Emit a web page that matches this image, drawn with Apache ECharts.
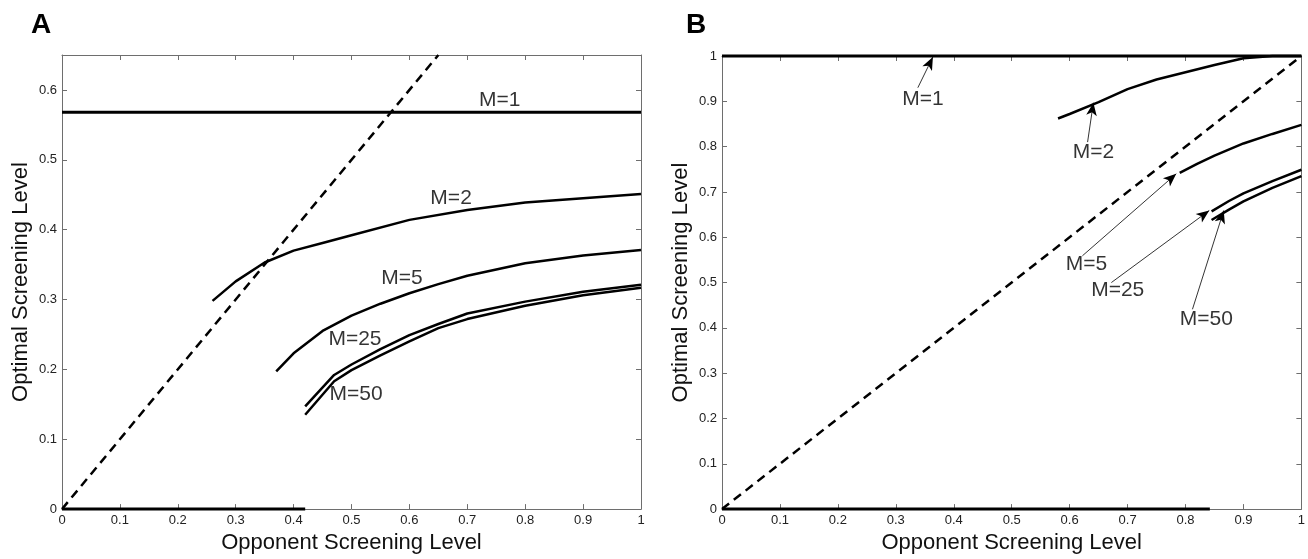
<!DOCTYPE html>
<html lang="en">
<head>
<meta charset="UTF-8">
<title>Optimal Screening Level</title>
<script src="https://cdn.jsdelivr.net/npm/echarts@6/dist/echarts.min.js"></script>
<style>
  html, body { margin: 0; padding: 0; background: #fff; }
  #main { width: 1308px; height: 559px; }
</style>
</head>
<body>
<div id="main"></div>
<script>
// ---- panel A ----
var xDiagA = [0, 0.65];
var yM1A = 0.568;
var zeroEndA = 0.42;
var xM2A = [0.26, 0.3, 0.35, 0.4, 0.45, 0.5, 0.6, 0.7, 0.8, 0.9, 1.0];
var yM2A = [0.298, 0.326, 0.353, 0.37, 0.381, 0.392, 0.414, 0.428, 0.439, 0.445, 0.451];
var xM5A = [0.37, 0.4, 0.45, 0.5, 0.55, 0.6, 0.65, 0.7, 0.8, 0.9, 1.0];
var yM5A = [0.197, 0.223, 0.255, 0.277, 0.294, 0.309, 0.322, 0.334, 0.352, 0.363, 0.371];
var xM25A = [0.42, 0.47, 0.5, 0.55, 0.6, 0.65, 0.7, 0.8, 0.9, 1.0];
var yM25A = [0.147, 0.192, 0.207, 0.229, 0.249, 0.265, 0.28, 0.297, 0.311, 0.321];
var xM50A = [0.42, 0.47, 0.5, 0.55, 0.6, 0.65, 0.7, 0.8, 0.9, 1.0];
var yM50A = [0.135, 0.183, 0.199, 0.22, 0.24, 0.259, 0.272, 0.291, 0.306, 0.317];
var labelsA = ['M=1', 'M=2', 'M=5', 'M=25', 'M=50'];
var labelPosA = [[0.756, 0.586], [0.672, 0.445], [0.587, 0.330], [0.506, 0.243], [0.508, 0.164]];

// ---- panel B ----
var xDiagB = [0, 1];
var yM1B = 1;
var zeroEndB = 0.842;
var xM2B = [0.58, 0.6, 0.65, 0.7, 0.75, 0.8, 0.85, 0.9, 0.95, 1.0];
var yM2B = [0.862, 0.872, 0.898, 0.927, 0.948, 0.964, 0.98, 0.995, 1.0, 1.0];
var xM5B = [0.79, 0.82, 0.85, 0.9, 0.95, 1.0];
var yM5B = [0.742, 0.762, 0.78, 0.807, 0.828, 0.848];
var xM25B = [0.845, 0.875, 0.9, 0.95, 1.0];
var yM25B = [0.657, 0.68, 0.697, 0.724, 0.749];
var xM50B = [0.845, 0.875, 0.9, 0.95, 1.0];
var yM50B = [0.638, 0.661, 0.679, 0.709, 0.735];
var labelsB = ['M=1', 'M=2', 'M=5', 'M=25', 'M=50'];
var labelPosB = [[0.347, 0.904], [0.641, 0.788], [0.629, 0.541], [0.683, 0.483], [0.836, 0.419]];
var arrowFromB = [[0.338, 0.930], [0.631, 0.810], [0.622, 0.559], [0.672, 0.500], [0.812, 0.441]];
var arrowToB = [[0.364, 0.998], [0.641, 0.897], [0.784, 0.740], [0.841, 0.659], [0.866, 0.659]];

var FONT = 'Liberation Sans, Arial, Helvetica, sans-serif';
var AXIS_COLOR = '#6e6e6e';

function zip(xs, ys) {
    return xs.map(function (x, i) { return [x, ys[i]]; });
}

function curve(data, xi, yi, extra) {
    var s = {
        type: 'line',
        xAxisIndex: xi,
        yAxisIndex: yi,
        data: data,
        showSymbol: false,
        symbol: 'none',
        clip: false,
        silent: true,
        lineStyle: { color: '#000', width: 2.5 },
        z: 3
    };
    if (extra) {
        for (var k in extra) s[k] = extra[k];
    }
    return s;
}

function bottomX(gi, name) {
    return {
        type: 'value', gridIndex: gi, min: 0, max: 1, interval: 0.1,
        name: name, nameLocation: 'middle', nameGap: 22,
        nameTextStyle: { fontFamily: FONT, fontSize: 22, color: '#111' },
        axisLine: { show: true, onZero: false, lineStyle: { color: AXIS_COLOR, width: 1 } },
        axisTick: { show: true, inside: true, length: 5, lineStyle: { color: AXIS_COLOR } },
        axisLabel: { fontFamily: FONT, fontSize: 13, color: '#222', margin: 5 },
        splitLine: { show: false }
    };
}

function topX(gi) {
    return {
        type: 'value', gridIndex: gi, position: 'top', min: 0, max: 1, interval: 0.1,
        axisLine: { show: true, onZero: false, lineStyle: { color: AXIS_COLOR, width: 1 } },
        axisTick: { show: true, inside: true, length: 5, lineStyle: { color: AXIS_COLOR } },
        axisLabel: { show: false },
        splitLine: { show: false }
    };
}

function leftY(gi, max, name, showMax) {
    return {
        type: 'value', gridIndex: gi, min: 0, max: max, interval: 0.1,
        name: name, nameLocation: 'middle', nameGap: 30,
        nameTextStyle: { fontFamily: FONT, fontSize: 22, color: '#111' },
        axisLine: { show: true, onZero: false, lineStyle: { color: AXIS_COLOR, width: 1 } },
        axisTick: { show: true, inside: true, length: 5, lineStyle: { color: AXIS_COLOR } },
        axisLabel: { fontFamily: FONT, fontSize: 13, color: '#222', margin: 5, showMaxLabel: showMax },
        splitLine: { show: false }
    };
}

function rightY(gi, max) {
    return {
        type: 'value', gridIndex: gi, position: 'right', min: 0, max: max, interval: 0.1,
        axisLine: { show: true, onZero: false, lineStyle: { color: AXIS_COLOR, width: 1 } },
        axisTick: { show: true, inside: true, length: 5, lineStyle: { color: AXIS_COLOR } },
        axisLabel: { show: false },
        splitLine: { show: false }
    };
}

function textSeries(names, pos, xi, yi) {
    return {
        type: 'scatter',
        xAxisIndex: xi,
        yAxisIndex: yi,
        symbolSize: 0,
        silent: true,
        data: pos.map(function (p, i) { return { value: p, name: names[i] }; }),
        label: {
            show: true,
            position: 'inside',
            formatter: '{b}',
            fontFamily: FONT,
            fontSize: 21,
            color: '#000',
            textBorderWidth: 0
        },
        z: 5
    };
}

var chart = echarts.init(document.getElementById('main'), null, { renderer: 'canvas' });

var seriesA = [
    curve(zip(xDiagA, xDiagA), 0, 0, { lineStyle: { color: '#000', width: 2.5, type: [9, 6] } }),
    curve([[0, yM1A], [1, yM1A]], 0, 0, { lineStyle: { color: '#000', width: 3 } }),
    curve([[0, 0], [zeroEndA, 0]], 0, 0, { lineStyle: { color: '#000', width: 3 } }),
    curve(zip(xM2A, yM2A), 0, 0),
    curve(zip(xM5A, yM5A), 0, 0),
    curve(zip(xM25A, yM25A), 0, 0),
    curve(zip(xM50A, yM50A), 0, 0),
    textSeries(labelsA, labelPosA, 0, 0)
];

var arrows = arrowFromB.map(function (from, i) {
    return [{ coord: from }, { coord: arrowToB[i] }];
});

var seriesB = [
    curve(zip(xDiagB, xDiagB), 2, 2, { lineStyle: { color: '#000', width: 2.5, type: [9, 6] } }),
    curve([[0, yM1B], [1, yM1B]], 2, 2, { lineStyle: { color: '#000', width: 3 } }),
    curve([[0, 0], [zeroEndB, 0]], 2, 2, { lineStyle: { color: '#000', width: 3 } }),
    curve(zip(xM2B, yM2B), 2, 2),
    curve(zip(xM5B, yM5B), 2, 2),
    curve(zip(xM25B, yM25B), 2, 2),
    curve(zip(xM50B, yM50B), 2, 2, {
        markLine: {
            silent: true,
            symbol: ['none', 'arrow'],
            symbolSize: [8, 13],
            label: { show: false },
            lineStyle: { color: '#000', width: 0.8, type: 'solid' },
            animation: false,
            data: arrows
        }
    }),
    textSeries(labelsB, labelPosB, 2, 2)
];

var option = {
    animation: false,
    backgroundColor: '#fff',
    title: [
        { text: 'A', left: 26, top: 6, textStyle: { fontFamily: FONT, fontSize: 28, fontWeight: 'bold', color: '#000' } },
        { text: 'B', left: 681, top: 6, textStyle: { fontFamily: FONT, fontSize: 28, fontWeight: 'bold', color: '#000' } }
    ],
    grid: [
        { left: 62, right: 667, top: 55, bottom: 47 },
        { left: 722, right: 6, top: 56, bottom: 45 }
    ],
    xAxis: [
        bottomX(0, 'Opponent Screening Level'),
        topX(0),
        bottomX(1, 'Opponent Screening Level'),
        topX(1)
    ],
    yAxis: [
        leftY(0, 0.65, 'Optimal Screening Level', false),
        rightY(0, 0.65),
        leftY(1, 1, 'Optimal Screening Level', true),
        rightY(1, 1)
    ],
    series: seriesA.concat(seriesB)
};

chart.setOption(option);
</script>
</body>
</html>
